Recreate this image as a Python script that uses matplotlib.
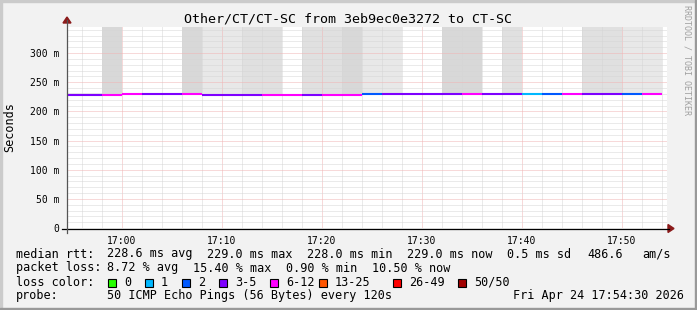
import matplotlib.pyplot as plt
from matplotlib.patches import Rectangle, Polygon
from matplotlib.lines import Line2D
import numpy as np

W, H = 697, 310

# 2-minute rounds, minutes after 17:00
seg_start = [-6, -4, -2, 0, 2, 4, 6, 8, 10, 12, 14, 16, 18, 20, 22,
             24, 26, 28, 30, 32, 34, 36, 38, 40, 42, 44, 46, 48, 50, 52]
median_ms = [228.0, 228.0, 228.0, 229.0, 229.0, 229.0, 229.4, 228.0, 228.0, 228.0,
             228.0, 228.0, 228.0, 228.0, 228.0, 229.0, 229.0, 229.0, 229.0, 229.0,
             229.0, 229.0, 229.0, 229.0, 229.0, 229.0, 229.0, 229.0, 229.0, 229.0]
loss_class = ['3-5', '3-5', '6-12', '6-12', '3-5', '3-5', '6-12', '3-5', '3-5', '3-5',
              '6-12', '6-12', '3-5', '6-12', '6-12', '2', '3-5', '3-5', '3-5', '3-5',
              '6-12', '3-5', '3-5', '1', '2', '6-12', '3-5', '3-5', '2', '6-12']
# smoke density (0 none .. 3 dense) and the top of the smoke in ms
smoke_level = [1, 1, 3, 0, 0, 0, 3, 1, 1, 2, 2, 0, 2, 2, 3,
               1, 1, 0, 0, 3, 3, 0, 2, 0, 0, 0, 2, 2, 1, 1]
smoke_top = [232, 232, 400, 0, 0, 0, 400, 400, 400, 400, 400, 0, 400, 400, 400,
             400, 400, 0, 0, 400, 400, 0, 400, 0, 0, 0, 400, 400, 400, 400]

loss_names = ['0', '1', '2', '3-5', '6-12', '13-25', '26-49', '50/50']
loss_colors = ['#26ff00', '#00b8ff', '#0059ff', '#7e00ff', '#ff00ff', '#ff5500', '#ff0000', '#a10000']
smoke_colors = ['#ffffff', '#e8e8e8', '#e0e0e0', '#d8d8d8']

y_ticks = [0, 50, 100, 150, 200, 250, 300]
y_labels = ['0', '50 m', '100 m', '150 m', '200 m', '250 m', '300 m']
x_ticks = [0, 10, 20, 30, 40, 50]
x_labels = ['17:00', '17:10', '17:20', '17:30', '17:40', '17:50']

title = 'Other/CT/CT-SC from 3eb9ec0e3272 to CT-SC'
row_rtt = [('median rtt:', 16), ('228.6 ms avg', 107), ('229.0 ms max', 207), ('228.0 ms min', 307),
           ('229.0 ms now', 407), ('0.5 ms sd', 507), ('486.6', 587), ('am/s', 642)]
row_loss = [('packet loss:', 16), ('8.72 % avg', 107), ('15.40 % max', 193),
            ('0.90 % min', 286), ('10.50 % now', 372)]
probe_text = '50 ICMP Echo Pings (56 Bytes) every 120s'
date_text = 'Fri Apr 24 17:54:30 2026'

mono = 'DejaVu Sans Mono'
fs = 8.5


def px(x, y):
    return x / W, 1 - y / H


fig = plt.figure(figsize=(W / 100, H / 100), dpi=100, facecolor='#f2f2f2')

# outer 3d border like rrdtool
fig.patches.append(Rectangle((0, 0), 2 / W, 1, transform=fig.transFigure, color='#cbcbcb'))
fig.patches.append(Rectangle((0, 1 - 2 / H), 1, 2 / H, transform=fig.transFigure, color='#cbcbcb'))
fig.patches.append(Rectangle((1 - 2 / W, 0), 2 / W, 1, transform=fig.transFigure, color='#999999'))
fig.patches.append(Rectangle((0, 0), 1, 2 / H, transform=fig.transFigure, color='#999999'))

ax = fig.add_axes([67 / W, (H - 228) / H, 600 / W, 201 / H])
ax.set_facecolor('white')

# smoke
starts = np.array(seg_start, dtype=float)
med = np.array(median_ms)
top = np.array(smoke_top, dtype=float)
has = top > 0
ax.bar(starts[has], top[has] - (med[has] - 1.5), bottom=med[has] - 1.5, width=2, align='edge',
       color=[smoke_colors[l] for l in np.array(smoke_level)[has]], linewidth=0, zorder=1)

# median line coloured by loss
cols = [loss_colors[loss_names.index(c)] for c in loss_class]
ax.hlines(med, starts, starts + 2, colors=cols, linewidth=1.5, zorder=3)

ax.set_xlim(-5.45, 54.55)
ax.set_ylim(0, 344.6)
ax.set_xticks(x_ticks)
ax.set_xticklabels(x_labels)
ax.set_xticks(np.arange(-4, 55, 2), minor=True)
ax.set_yticks(y_ticks)
ax.set_yticklabels(y_labels)
ax.set_yticks(np.arange(0, 345, 10), minor=True)
ax.grid(which='minor', color='#d6d6d6', linestyle=(0, (1, 1)), linewidth=0.72, zorder=2)
ax.grid(which='major', color='#f0b4b4', linestyle=(0, (1, 1)), linewidth=0.72, zorder=2)
ax.set_axisbelow(False)
ax.tick_params(which='both', length=0)
ax.tick_params(axis='x', pad=5.5, labelsize=7)
ax.tick_params(axis='y', pad=5.5, labelsize=7)
for lab in ax.get_xticklabels() + ax.get_yticklabels():
    lab.set_family(mono)
for s in ax.spines.values():
    s.set_visible(False)

# axis lines and arrows
fig.add_artist(Line2D(*zip(px(62, 228.5), px(669, 228.5)), transform=fig.transFigure, color='black', lw=0.9))
fig.add_artist(Line2D(*zip(px(67, 233), px(67, 20)), transform=fig.transFigure, color='#555555', lw=0.9))
fig.patches.append(Polygon([px(668, 224.5), px(674, 228.5), px(668, 232.5)], closed=True,
                           transform=fig.transFigure, color='#8b1a1a'))
fig.patches.append(Polygon([px(63, 23), px(67, 17), px(71, 23)], closed=True,
                           transform=fig.transFigure, color='#8b1a1a'))

# title and labels
fig.text(*px(348, 19), title, family=mono, fontsize=9.6, ha='center', va='center')
fig.text(*px(10, 127), 'Seconds', family=mono, fontsize=fs, rotation=90, ha='center', va='center')
fig.text(*px(687, 60), 'RRDTOOL / TOBI OETIKER', family=mono, fontsize=6, rotation=-90,
         ha='center', va='center', color='#a0a0a0')

# legend rows
for txt, x in row_rtt:
    fig.text(*px(x, 254), txt, family=mono, fontsize=fs, ha='left', va='center')
for txt, x in row_loss:
    fig.text(*px(x, 268), txt, family=mono, fontsize=fs, ha='left', va='center')

fig.text(*px(16, 282), 'loss color:', family=mono, fontsize=fs, ha='left', va='center')
box_x = [108, 145, 182, 219, 270, 319, 393, 458]
for name, c, bx in zip(loss_names, loss_colors, box_x):
    fig.patches.append(Rectangle(px(bx, 286.5), 8 / W, 8 / H, transform=fig.transFigure,
                                 facecolor=c, edgecolor='black', linewidth=0.8))
    fig.text(*px(bx + 16, 282), name, family=mono, fontsize=fs, ha='left', va='center')

fig.text(*px(16, 296), 'probe:', family=mono, fontsize=fs, ha='left', va='center')
fig.text(*px(107, 296), probe_text, family=mono, fontsize=fs, ha='left', va='center')
fig.text(*px(513, 296), date_text, family=mono, fontsize=fs, ha='left', va='center')

fig.savefig('out.png', dpi=100, facecolor=fig.get_facecolor())
